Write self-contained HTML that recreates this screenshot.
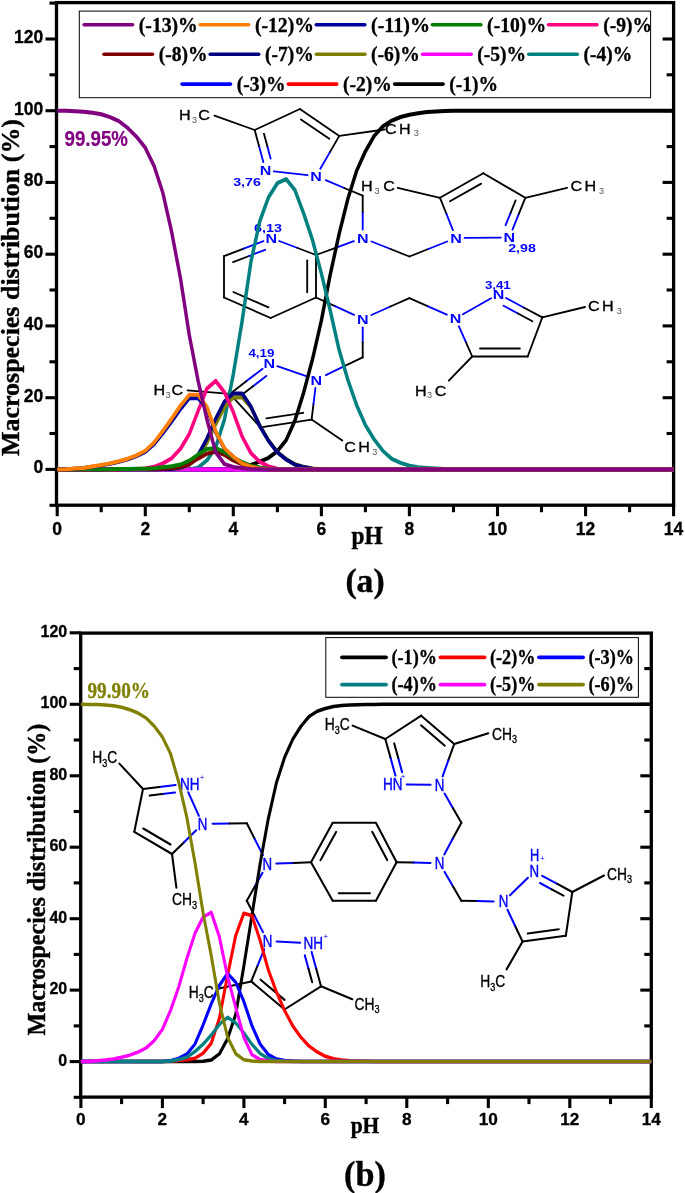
<!DOCTYPE html>
<html><head><meta charset="utf-8"><title>Macrospecies distribution</title>
<style>html,body{margin:0;padding:0;background:#fff}svg{display:block}</style></head>
<body>
<svg width="685" height="1193" viewBox="0 0 685 1193">
<rect width="685" height="1193" fill="#fff"/>
<g id="chartA">
<rect x="56.5" y="2.6" width="617.1" height="502.6" fill="none" stroke="#000" stroke-width="3.3"/>
<line x1="49.5" y1="505.3" x2="56.5" y2="505.3" stroke="#000" stroke-width="3.1"/>
<line x1="45.5" y1="469.4" x2="56.5" y2="469.4" stroke="#000" stroke-width="3.1"/>
<line x1="662.6" y1="469.4" x2="673.6" y2="469.4" stroke="#000" stroke-width="3.1"/>
<text x="43.2" y="473.2" font-family='"Liberation Sans", Arial, sans-serif' font-size="17.5" font-weight="bold" fill="#000" text-anchor="end"  stroke="#000" stroke-width="0.3" stroke-linejoin="round">0</text>
<line x1="49.5" y1="433.5" x2="56.5" y2="433.5" stroke="#000" stroke-width="3.1"/>
<line x1="666.6" y1="433.5" x2="673.6" y2="433.5" stroke="#000" stroke-width="3.1"/>
<line x1="45.5" y1="397.7" x2="56.5" y2="397.7" stroke="#000" stroke-width="3.1"/>
<line x1="662.6" y1="397.7" x2="673.6" y2="397.7" stroke="#000" stroke-width="3.1"/>
<text x="43.2" y="401.5" font-family='"Liberation Sans", Arial, sans-serif' font-size="17.5" font-weight="bold" fill="#000" text-anchor="end"  stroke="#000" stroke-width="0.3" stroke-linejoin="round">20</text>
<line x1="49.5" y1="361.8" x2="56.5" y2="361.8" stroke="#000" stroke-width="3.1"/>
<line x1="666.6" y1="361.8" x2="673.6" y2="361.8" stroke="#000" stroke-width="3.1"/>
<line x1="45.5" y1="325.9" x2="56.5" y2="325.9" stroke="#000" stroke-width="3.1"/>
<line x1="662.6" y1="325.9" x2="673.6" y2="325.9" stroke="#000" stroke-width="3.1"/>
<text x="43.2" y="329.7" font-family='"Liberation Sans", Arial, sans-serif' font-size="17.5" font-weight="bold" fill="#000" text-anchor="end"  stroke="#000" stroke-width="0.3" stroke-linejoin="round">40</text>
<line x1="49.5" y1="290.0" x2="56.5" y2="290.0" stroke="#000" stroke-width="3.1"/>
<line x1="666.6" y1="290.0" x2="673.6" y2="290.0" stroke="#000" stroke-width="3.1"/>
<line x1="45.5" y1="254.2" x2="56.5" y2="254.2" stroke="#000" stroke-width="3.1"/>
<line x1="662.6" y1="254.2" x2="673.6" y2="254.2" stroke="#000" stroke-width="3.1"/>
<text x="43.2" y="258.0" font-family='"Liberation Sans", Arial, sans-serif' font-size="17.5" font-weight="bold" fill="#000" text-anchor="end"  stroke="#000" stroke-width="0.3" stroke-linejoin="round">60</text>
<line x1="49.5" y1="218.3" x2="56.5" y2="218.3" stroke="#000" stroke-width="3.1"/>
<line x1="666.6" y1="218.3" x2="673.6" y2="218.3" stroke="#000" stroke-width="3.1"/>
<line x1="45.5" y1="182.4" x2="56.5" y2="182.4" stroke="#000" stroke-width="3.1"/>
<line x1="662.6" y1="182.4" x2="673.6" y2="182.4" stroke="#000" stroke-width="3.1"/>
<text x="43.2" y="186.2" font-family='"Liberation Sans", Arial, sans-serif' font-size="17.5" font-weight="bold" fill="#000" text-anchor="end"  stroke="#000" stroke-width="0.3" stroke-linejoin="round">80</text>
<line x1="49.5" y1="146.6" x2="56.5" y2="146.6" stroke="#000" stroke-width="3.1"/>
<line x1="666.6" y1="146.6" x2="673.6" y2="146.6" stroke="#000" stroke-width="3.1"/>
<line x1="45.5" y1="110.7" x2="56.5" y2="110.7" stroke="#000" stroke-width="3.1"/>
<line x1="662.6" y1="110.7" x2="673.6" y2="110.7" stroke="#000" stroke-width="3.1"/>
<text x="43.2" y="114.5" font-family='"Liberation Sans", Arial, sans-serif' font-size="17.5" font-weight="bold" fill="#000" text-anchor="end"  stroke="#000" stroke-width="0.3" stroke-linejoin="round">100</text>
<line x1="49.5" y1="74.8" x2="56.5" y2="74.8" stroke="#000" stroke-width="3.1"/>
<line x1="666.6" y1="74.8" x2="673.6" y2="74.8" stroke="#000" stroke-width="3.1"/>
<line x1="45.5" y1="39.0" x2="56.5" y2="39.0" stroke="#000" stroke-width="3.1"/>
<line x1="662.6" y1="39.0" x2="673.6" y2="39.0" stroke="#000" stroke-width="3.1"/>
<text x="43.2" y="42.8" font-family='"Liberation Sans", Arial, sans-serif' font-size="17.5" font-weight="bold" fill="#000" text-anchor="end"  stroke="#000" stroke-width="0.3" stroke-linejoin="round">120</text>
<line x1="49.5" y1="3.1" x2="56.5" y2="3.1" stroke="#000" stroke-width="3.1"/>
<line x1="57.2" y1="505.2" x2="57.2" y2="516.2" stroke="#000" stroke-width="3.1"/>
<text x="57.2" y="534.8" font-family='"Liberation Sans", Arial, sans-serif' font-size="17.5" font-weight="bold" fill="#000" text-anchor="middle"  stroke="#000" stroke-width="0.3" stroke-linejoin="round">0</text>
<line x1="101.2" y1="505.2" x2="101.2" y2="512.2" stroke="#000" stroke-width="3.1"/>
<line x1="145.3" y1="505.2" x2="145.3" y2="516.2" stroke="#000" stroke-width="3.1"/>
<text x="145.3" y="534.8" font-family='"Liberation Sans", Arial, sans-serif' font-size="17.5" font-weight="bold" fill="#000" text-anchor="middle"  stroke="#000" stroke-width="0.3" stroke-linejoin="round">2</text>
<line x1="189.3" y1="505.2" x2="189.3" y2="512.2" stroke="#000" stroke-width="3.1"/>
<line x1="233.3" y1="505.2" x2="233.3" y2="516.2" stroke="#000" stroke-width="3.1"/>
<text x="233.3" y="534.8" font-family='"Liberation Sans", Arial, sans-serif' font-size="17.5" font-weight="bold" fill="#000" text-anchor="middle"  stroke="#000" stroke-width="0.3" stroke-linejoin="round">4</text>
<line x1="277.4" y1="505.2" x2="277.4" y2="512.2" stroke="#000" stroke-width="3.1"/>
<line x1="321.4" y1="505.2" x2="321.4" y2="516.2" stroke="#000" stroke-width="3.1"/>
<text x="321.4" y="534.8" font-family='"Liberation Sans", Arial, sans-serif' font-size="17.5" font-weight="bold" fill="#000" text-anchor="middle"  stroke="#000" stroke-width="0.3" stroke-linejoin="round">6</text>
<line x1="365.4" y1="505.2" x2="365.4" y2="512.2" stroke="#000" stroke-width="3.1"/>
<line x1="409.4" y1="505.2" x2="409.4" y2="516.2" stroke="#000" stroke-width="3.1"/>
<text x="409.4" y="534.8" font-family='"Liberation Sans", Arial, sans-serif' font-size="17.5" font-weight="bold" fill="#000" text-anchor="middle"  stroke="#000" stroke-width="0.3" stroke-linejoin="round">8</text>
<line x1="453.5" y1="505.2" x2="453.5" y2="512.2" stroke="#000" stroke-width="3.1"/>
<line x1="497.5" y1="505.2" x2="497.5" y2="516.2" stroke="#000" stroke-width="3.1"/>
<text x="497.5" y="534.8" font-family='"Liberation Sans", Arial, sans-serif' font-size="17.5" font-weight="bold" fill="#000" text-anchor="middle"  stroke="#000" stroke-width="0.3" stroke-linejoin="round">10</text>
<line x1="541.5" y1="505.2" x2="541.5" y2="512.2" stroke="#000" stroke-width="3.1"/>
<line x1="585.6" y1="505.2" x2="585.6" y2="516.2" stroke="#000" stroke-width="3.1"/>
<text x="585.6" y="534.8" font-family='"Liberation Sans", Arial, sans-serif' font-size="17.5" font-weight="bold" fill="#000" text-anchor="middle"  stroke="#000" stroke-width="0.3" stroke-linejoin="round">12</text>
<line x1="629.6" y1="505.2" x2="629.6" y2="512.2" stroke="#000" stroke-width="3.1"/>
<line x1="673.6" y1="505.2" x2="673.6" y2="516.2" stroke="#000" stroke-width="3.1"/>
<text x="673.6" y="534.8" font-family='"Liberation Sans", Arial, sans-serif' font-size="17.5" font-weight="bold" fill="#000" text-anchor="middle"  stroke="#000" stroke-width="0.3" stroke-linejoin="round">14</text>
<g id="molA">
<line x1="254.7" y1="130.0" x2="299.9" y2="109.0" stroke="#000000" stroke-width="1.85" stroke-linecap="round"/>
<line x1="299.9" y1="109.0" x2="339.3" y2="135.9" stroke="#000000" stroke-width="1.85" stroke-linecap="round"/>
<line x1="300.9" y1="119.4" x2="329.3" y2="138.7" stroke="#000000" stroke-width="1.85" stroke-linecap="round"/>
<line x1="339.3" y1="135.9" x2="329.8" y2="152.4" stroke="#000000" stroke-width="1.85" stroke-linecap="round"/>
<line x1="329.8" y1="152.4" x2="320.3" y2="168.8" stroke="#0000ff" stroke-width="1.85" stroke-linecap="round"/>
<line x1="307.6" y1="175.2" x2="273.9" y2="171.3" stroke="#0000ff" stroke-width="1.85" stroke-linecap="round"/>
<line x1="263.3" y1="162.1" x2="259.0" y2="146.0" stroke="#0000ff" stroke-width="1.85" stroke-linecap="round"/>
<line x1="259.0" y1="146.0" x2="254.7" y2="130.0" stroke="#000000" stroke-width="1.85" stroke-linecap="round"/>
<line x1="270.6" y1="158.6" x2="267.3" y2="146.1" stroke="#0000ff" stroke-width="1.85" stroke-linecap="round"/>
<line x1="267.3" y1="146.1" x2="263.9" y2="133.6" stroke="#000000" stroke-width="1.85" stroke-linecap="round"/>
<line x1="214.5" y1="115.6" x2="254.7" y2="130.0" stroke="#000000" stroke-width="1.85" stroke-linecap="round"/>
<line x1="339.3" y1="135.9" x2="384.6" y2="129.5" stroke="#000000" stroke-width="1.85" stroke-linecap="round"/>
<line x1="325.7" y1="180.2" x2="344.2" y2="188.0" stroke="#0000ff" stroke-width="1.85" stroke-linecap="round"/>
<line x1="344.2" y1="188.0" x2="362.7" y2="195.7" stroke="#000000" stroke-width="1.85" stroke-linecap="round"/>
<line x1="362.7" y1="195.7" x2="362.7" y2="212.6" stroke="#000000" stroke-width="1.85" stroke-linecap="round"/>
<line x1="362.7" y1="212.6" x2="362.7" y2="229.5" stroke="#0000ff" stroke-width="1.85" stroke-linecap="round"/>
<line x1="279.2" y1="241.0" x2="297.6" y2="248.0" stroke="#0000ff" stroke-width="1.85" stroke-linecap="round"/>
<line x1="297.6" y1="248.0" x2="316.0" y2="255.0" stroke="#000000" stroke-width="1.85" stroke-linecap="round"/>
<line x1="316.0" y1="255.0" x2="316.0" y2="297.5" stroke="#000000" stroke-width="1.85" stroke-linecap="round"/>
<line x1="307.2" y1="260.3" x2="307.2" y2="292.2" stroke="#000000" stroke-width="1.85" stroke-linecap="round"/>
<line x1="316.0" y1="297.5" x2="270.7" y2="318.0" stroke="#000000" stroke-width="1.85" stroke-linecap="round"/>
<line x1="270.7" y1="318.0" x2="224.0" y2="297.5" stroke="#000000" stroke-width="1.85" stroke-linecap="round"/>
<line x1="268.4" y1="307.4" x2="233.4" y2="292.0" stroke="#000000" stroke-width="1.85" stroke-linecap="round"/>
<line x1="224.0" y1="297.5" x2="224.0" y2="256.2" stroke="#000000" stroke-width="1.85" stroke-linecap="round"/>
<line x1="224.0" y1="256.2" x2="243.7" y2="248.6" stroke="#000000" stroke-width="1.85" stroke-linecap="round"/>
<line x1="243.7" y1="248.6" x2="263.4" y2="241.1" stroke="#0000ff" stroke-width="1.85" stroke-linecap="round"/>
<line x1="233.1" y1="262.1" x2="249.1" y2="256.0" stroke="#000000" stroke-width="1.85" stroke-linecap="round"/>
<line x1="249.1" y1="256.0" x2="265.1" y2="249.8" stroke="#0000ff" stroke-width="1.85" stroke-linecap="round"/>
<line x1="316.0" y1="255.0" x2="334.9" y2="248.1" stroke="#000000" stroke-width="1.85" stroke-linecap="round"/>
<line x1="334.9" y1="248.1" x2="353.8" y2="241.2" stroke="#0000ff" stroke-width="1.85" stroke-linecap="round"/>
<line x1="316.0" y1="297.5" x2="335.0" y2="306.2" stroke="#000000" stroke-width="1.85" stroke-linecap="round"/>
<line x1="335.0" y1="306.2" x2="354.1" y2="314.9" stroke="#0000ff" stroke-width="1.85" stroke-linecap="round"/>
<line x1="464.6" y1="237.9" x2="500.8" y2="237.6" stroke="#0000ff" stroke-width="1.85" stroke-linecap="round"/>
<line x1="512.5" y1="229.6" x2="518.9" y2="213.7" stroke="#0000ff" stroke-width="1.85" stroke-linecap="round"/>
<line x1="518.9" y1="213.7" x2="525.3" y2="197.8" stroke="#000000" stroke-width="1.85" stroke-linecap="round"/>
<line x1="505.6" y1="225.2" x2="510.6" y2="212.8" stroke="#0000ff" stroke-width="1.85" stroke-linecap="round"/>
<line x1="510.6" y1="212.8" x2="515.6" y2="200.4" stroke="#000000" stroke-width="1.85" stroke-linecap="round"/>
<line x1="525.3" y1="197.8" x2="483.3" y2="173.2" stroke="#000000" stroke-width="1.85" stroke-linecap="round"/>
<line x1="483.3" y1="173.2" x2="440.0" y2="197.8" stroke="#000000" stroke-width="1.85" stroke-linecap="round"/>
<line x1="481.2" y1="183.6" x2="450.0" y2="201.3" stroke="#000000" stroke-width="1.85" stroke-linecap="round"/>
<line x1="440.0" y1="197.8" x2="446.5" y2="214.0" stroke="#000000" stroke-width="1.85" stroke-linecap="round"/>
<line x1="446.5" y1="214.0" x2="452.9" y2="230.1" stroke="#0000ff" stroke-width="1.85" stroke-linecap="round"/>
<line x1="371.5" y1="241.5" x2="390.5" y2="249.0" stroke="#0000ff" stroke-width="1.85" stroke-linecap="round"/>
<line x1="390.5" y1="249.0" x2="409.4" y2="256.5" stroke="#000000" stroke-width="1.85" stroke-linecap="round"/>
<line x1="409.4" y1="256.5" x2="428.3" y2="249.0" stroke="#000000" stroke-width="1.85" stroke-linecap="round"/>
<line x1="428.3" y1="249.0" x2="447.3" y2="241.5" stroke="#0000ff" stroke-width="1.85" stroke-linecap="round"/>
<line x1="440.0" y1="197.8" x2="397.7" y2="187.8" stroke="#000000" stroke-width="1.85" stroke-linecap="round"/>
<line x1="525.3" y1="197.8" x2="567.0" y2="187.8" stroke="#000000" stroke-width="1.85" stroke-linecap="round"/>
<line x1="462.9" y1="314.3" x2="491.1" y2="298.2" stroke="#0000ff" stroke-width="1.85" stroke-linecap="round"/>
<line x1="506.0" y1="298.0" x2="524.1" y2="307.7" stroke="#0000ff" stroke-width="1.85" stroke-linecap="round"/>
<line x1="524.1" y1="307.7" x2="542.3" y2="317.4" stroke="#000000" stroke-width="1.85" stroke-linecap="round"/>
<line x1="503.6" y1="305.8" x2="518.0" y2="313.5" stroke="#0000ff" stroke-width="1.85" stroke-linecap="round"/>
<line x1="518.0" y1="313.5" x2="532.4" y2="321.2" stroke="#000000" stroke-width="1.85" stroke-linecap="round"/>
<line x1="542.3" y1="317.4" x2="527.7" y2="356.5" stroke="#000000" stroke-width="1.85" stroke-linecap="round"/>
<line x1="527.7" y1="356.5" x2="472.2" y2="356.5" stroke="#000000" stroke-width="1.85" stroke-linecap="round"/>
<line x1="519.9" y1="348.5" x2="480.0" y2="348.5" stroke="#000000" stroke-width="1.85" stroke-linecap="round"/>
<line x1="472.2" y1="356.5" x2="465.6" y2="341.4" stroke="#000000" stroke-width="1.85" stroke-linecap="round"/>
<line x1="465.6" y1="341.4" x2="458.9" y2="326.3" stroke="#0000ff" stroke-width="1.85" stroke-linecap="round"/>
<line x1="371.4" y1="315.0" x2="390.4" y2="306.5" stroke="#0000ff" stroke-width="1.85" stroke-linecap="round"/>
<line x1="390.4" y1="306.5" x2="409.4" y2="298.1" stroke="#000000" stroke-width="1.85" stroke-linecap="round"/>
<line x1="409.4" y1="298.1" x2="428.1" y2="306.4" stroke="#000000" stroke-width="1.85" stroke-linecap="round"/>
<line x1="428.1" y1="306.4" x2="446.8" y2="314.7" stroke="#0000ff" stroke-width="1.85" stroke-linecap="round"/>
<line x1="542.3" y1="317.4" x2="585.0" y2="307.0" stroke="#000000" stroke-width="1.85" stroke-linecap="round"/>
<line x1="472.2" y1="356.5" x2="448.8" y2="380.7" stroke="#000000" stroke-width="1.85" stroke-linecap="round"/>
<line x1="308.4" y1="376.9" x2="277.3" y2="366.2" stroke="#0000ff" stroke-width="1.85" stroke-linecap="round"/>
<line x1="262.6" y1="368.7" x2="246.2" y2="381.3" stroke="#0000ff" stroke-width="1.85" stroke-linecap="round"/>
<line x1="246.2" y1="381.3" x2="229.9" y2="393.9" stroke="#000000" stroke-width="1.85" stroke-linecap="round"/>
<line x1="266.3" y1="375.9" x2="253.3" y2="386.0" stroke="#0000ff" stroke-width="1.85" stroke-linecap="round"/>
<line x1="253.3" y1="386.0" x2="240.3" y2="396.0" stroke="#000000" stroke-width="1.85" stroke-linecap="round"/>
<line x1="229.9" y1="393.9" x2="260.5" y2="427.4" stroke="#000000" stroke-width="1.85" stroke-linecap="round"/>
<line x1="260.5" y1="427.4" x2="311.6" y2="419.6" stroke="#000000" stroke-width="1.85" stroke-linecap="round"/>
<line x1="266.4" y1="418.4" x2="303.2" y2="412.8" stroke="#000000" stroke-width="1.85" stroke-linecap="round"/>
<line x1="311.6" y1="419.6" x2="313.5" y2="403.8" stroke="#000000" stroke-width="1.85" stroke-linecap="round"/>
<line x1="313.5" y1="403.8" x2="315.4" y2="388.0" stroke="#0000ff" stroke-width="1.85" stroke-linecap="round"/>
<line x1="362.7" y1="327.3" x2="362.7" y2="342.4" stroke="#0000ff" stroke-width="1.85" stroke-linecap="round"/>
<line x1="362.7" y1="342.4" x2="362.7" y2="357.4" stroke="#000000" stroke-width="1.85" stroke-linecap="round"/>
<line x1="362.7" y1="357.4" x2="344.3" y2="366.2" stroke="#000000" stroke-width="1.85" stroke-linecap="round"/>
<line x1="344.3" y1="366.2" x2="325.9" y2="375.1" stroke="#0000ff" stroke-width="1.85" stroke-linecap="round"/>
<line x1="229.9" y1="393.9" x2="187.5" y2="390.4" stroke="#000000" stroke-width="1.85" stroke-linecap="round"/>
<line x1="311.6" y1="419.6" x2="342.3" y2="440.6" stroke="#000000" stroke-width="1.85" stroke-linecap="round"/>
<text transform="translate(316.0,181.1) scale(1.17,1)" text-anchor="middle" font-family='"Liberation Sans", Arial, sans-serif' font-size="13.7" font-weight="bold" fill="#0000ff">N</text>
<text transform="translate(265.5,175.2) scale(1.17,1)" text-anchor="middle" font-family='"Liberation Sans", Arial, sans-serif' font-size="13.7" font-weight="bold" fill="#0000ff">N</text>
<text transform="translate(362.7,242.9) scale(1.17,1)" text-anchor="middle" font-family='"Liberation Sans", Arial, sans-serif' font-size="13.7" font-weight="bold" fill="#0000ff">N</text>
<text transform="translate(271.3,242.9) scale(1.17,1)" text-anchor="middle" font-family='"Liberation Sans", Arial, sans-serif' font-size="13.7" font-weight="bold" fill="#0000ff">N</text>
<text transform="translate(362.7,323.7) scale(1.17,1)" text-anchor="middle" font-family='"Liberation Sans", Arial, sans-serif' font-size="13.7" font-weight="bold" fill="#0000ff">N</text>
<text transform="translate(456.1,242.9) scale(1.17,1)" text-anchor="middle" font-family='"Liberation Sans", Arial, sans-serif' font-size="13.7" font-weight="bold" fill="#0000ff">N</text>
<text transform="translate(509.3,242.4) scale(1.17,1)" text-anchor="middle" font-family='"Liberation Sans", Arial, sans-serif' font-size="13.7" font-weight="bold" fill="#0000ff">N</text>
<text transform="translate(455.5,323.4) scale(1.17,1)" text-anchor="middle" font-family='"Liberation Sans", Arial, sans-serif' font-size="13.7" font-weight="bold" fill="#0000ff">N</text>
<text transform="translate(498.5,298.9) scale(1.17,1)" text-anchor="middle" font-family='"Liberation Sans", Arial, sans-serif' font-size="13.7" font-weight="bold" fill="#0000ff">N</text>
<text transform="translate(316.4,384.5) scale(1.17,1)" text-anchor="middle" font-family='"Liberation Sans", Arial, sans-serif' font-size="13.7" font-weight="bold" fill="#0000ff">N</text>
<text transform="translate(269.3,368.4) scale(1.17,1)" text-anchor="middle" font-family='"Liberation Sans", Arial, sans-serif' font-size="13.7" font-weight="bold" fill="#0000ff">N</text>
<text transform="translate(179.1,119.6) scale(1.13,1)" font-family='"Liberation Sans", Arial, sans-serif' font-size="14.3" fill="#000" stroke="#000" stroke-width="0.3">H</text><text transform="translate(192.1,122.5) scale(1.1,1)" font-family='"Liberation Sans", Arial, sans-serif' font-size="8.3" fill="#555">3</text><text transform="translate(198.3,119.6) scale(1.13,1)" font-family='"Liberation Sans", Arial, sans-serif' font-size="14.3" fill="#000" stroke="#000" stroke-width="0.3">C</text>
<text transform="translate(385.1,133.5) scale(1.13,1)" font-family='"Liberation Sans", Arial, sans-serif' font-size="14.3" fill="#000" stroke="#000" stroke-width="0.3">C</text><text transform="translate(399.1,133.5) scale(1.13,1)" font-family='"Liberation Sans", Arial, sans-serif' font-size="14.3" fill="#000" stroke="#000" stroke-width="0.3">H</text><text transform="translate(413.7,136.4) scale(1.1,1)" font-family='"Liberation Sans", Arial, sans-serif' font-size="8.3" fill="#555">3</text>
<text transform="translate(361.1,190.6) scale(1.13,1)" font-family='"Liberation Sans", Arial, sans-serif' font-size="14.3" fill="#000" stroke="#000" stroke-width="0.3">H</text><text transform="translate(374.6,193.5) scale(1.1,1)" font-family='"Liberation Sans", Arial, sans-serif' font-size="8.3" fill="#555">3</text><text transform="translate(383.3,190.6) scale(1.13,1)" font-family='"Liberation Sans", Arial, sans-serif' font-size="14.3" fill="#000" stroke="#000" stroke-width="0.3">C</text>
<text transform="translate(570.4,191.2) scale(1.13,1)" font-family='"Liberation Sans", Arial, sans-serif' font-size="14.3" fill="#000" stroke="#000" stroke-width="0.3">C</text><text transform="translate(584.4,191.2) scale(1.13,1)" font-family='"Liberation Sans", Arial, sans-serif' font-size="14.3" fill="#000" stroke="#000" stroke-width="0.3">H</text><text transform="translate(599.0,194.1) scale(1.1,1)" font-family='"Liberation Sans", Arial, sans-serif' font-size="8.3" fill="#555">3</text>
<text transform="translate(588.1,311.4) scale(1.13,1)" font-family='"Liberation Sans", Arial, sans-serif' font-size="14.3" fill="#000" stroke="#000" stroke-width="0.3">C</text><text transform="translate(602.1,311.4) scale(1.13,1)" font-family='"Liberation Sans", Arial, sans-serif' font-size="14.3" fill="#000" stroke="#000" stroke-width="0.3">H</text><text transform="translate(616.7,314.3) scale(1.1,1)" font-family='"Liberation Sans", Arial, sans-serif' font-size="8.3" fill="#555">3</text>
<text transform="translate(414.9,395.5) scale(1.13,1)" font-family='"Liberation Sans", Arial, sans-serif' font-size="14.3" fill="#000" stroke="#000" stroke-width="0.3">H</text><text transform="translate(427.1,398.4) scale(1.1,1)" font-family='"Liberation Sans", Arial, sans-serif' font-size="8.3" fill="#555">3</text><text transform="translate(434.7,395.5) scale(1.13,1)" font-family='"Liberation Sans", Arial, sans-serif' font-size="14.3" fill="#000" stroke="#000" stroke-width="0.3">C</text>
<text transform="translate(153.5,395.2) scale(1.13,1)" font-family='"Liberation Sans", Arial, sans-serif' font-size="14.3" fill="#000" stroke="#000" stroke-width="0.3">H</text><text transform="translate(165.5,398.1) scale(1.1,1)" font-family='"Liberation Sans", Arial, sans-serif' font-size="8.3" fill="#555">3</text><text transform="translate(171.4,395.2) scale(1.13,1)" font-family='"Liberation Sans", Arial, sans-serif' font-size="14.3" fill="#000" stroke="#000" stroke-width="0.3">C</text>
<text transform="translate(344.3,451.8) scale(1.13,1)" font-family='"Liberation Sans", Arial, sans-serif' font-size="14.3" fill="#000" stroke="#000" stroke-width="0.3">C</text><text transform="translate(358.3,451.8) scale(1.13,1)" font-family='"Liberation Sans", Arial, sans-serif' font-size="14.3" fill="#000" stroke="#000" stroke-width="0.3">H</text><text transform="translate(372.2,454.7) scale(1.1,1)" font-family='"Liberation Sans", Arial, sans-serif' font-size="8.3" fill="#555">3</text>
<text x="233.2" y="186.3" font-family='"Liberation Sans", Arial, sans-serif' font-size="10.6" font-weight="bold" fill="#0000ff" text-anchor="start" textLength="27.6" lengthAdjust="spacingAndGlyphs" >3,76</text>
<text x="254.1" y="231.8" font-family='"Liberation Sans", Arial, sans-serif' font-size="10.6" font-weight="bold" fill="#0000ff" text-anchor="start" textLength="28.0" lengthAdjust="spacingAndGlyphs" >6,13</text>
<text x="508.2" y="251.8" font-family='"Liberation Sans", Arial, sans-serif' font-size="10.6" font-weight="bold" fill="#0000ff" text-anchor="start" textLength="27.6" lengthAdjust="spacingAndGlyphs" >2,98</text>
<text x="484.9" y="288.9" font-family='"Liberation Sans", Arial, sans-serif' font-size="10.6" font-weight="bold" fill="#0000ff" text-anchor="start" textLength="25.8" lengthAdjust="spacingAndGlyphs" >3,41</text>
<text x="248.4" y="357.4" font-family='"Liberation Sans", Arial, sans-serif' font-size="10.6" font-weight="bold" fill="#0000ff" text-anchor="start" textLength="26.0" lengthAdjust="spacingAndGlyphs" >4,19</text>
</g>
<g id="curvesA" transform="scale(0.86,1)">
<polyline points="66.51,469.4 76.75,469.4 86.99,469.4 97.23,469.4 107.47,469.4 117.71,469.4 127.95,469.4 138.19,469.4 148.43,469.4 158.67,469.4 168.91,469.4 179.15,469.4 189.39,469.4 199.63,469.4 209.87,469.4 220.10,469.4 230.34,469.4 240.58,469.4 250.82,469.4 261.06,469.4 271.30,469.4 281.54,467.9 291.78,464.8 302.02,461.7 312.26,457.8 322.50,451.2 332.74,440.1 342.98,420.5 353.22,392.2 363.46,358.9 373.70,320.5 383.94,274.8 394.18,234.5 404.42,199.1 414.66,170.9 424.90,151.3 435.13,135.9 445.37,126.3 455.61,120.6 465.85,117.0 476.09,114.8 486.33,113.2 496.57,112.0 506.81,111.4 517.05,111.1 527.29,110.8 537.53,110.7 547.77,110.7 558.01,110.7 568.25,110.7 578.49,110.7 588.73,110.7 598.97,110.7 609.21,110.7 619.45,110.7 629.69,110.7 639.93,110.7 650.17,110.7 660.40,110.7 670.64,110.7 680.88,110.7 691.12,110.7 701.36,110.7 711.60,110.7 721.84,110.7 732.08,110.7 742.32,110.7 752.56,110.7 762.80,110.7 773.04,110.7 783.28,110.7" fill="none" stroke="#000000" stroke-width="4.0" stroke-linejoin="round" stroke-linecap="butt"/>
<polyline points="66.51,469.4 76.75,469.4 86.99,469.4 97.23,469.4 107.47,469.4 117.71,469.4 127.95,469.4 138.19,469.4 148.43,469.4 158.67,469.4 168.91,469.4 179.15,469.4 189.39,469.4 199.63,469.4 209.87,469.4 220.10,469.4 230.34,469.4 240.58,469.4 250.82,469.4 261.06,469.4 271.30,469.4 281.54,469.4 291.78,469.4 302.02,469.4 312.26,469.4 322.50,469.4 332.74,469.4 342.98,469.4 353.22,469.4 363.46,469.4 373.70,469.4 383.94,469.4 394.18,469.4 404.42,469.4 414.66,469.4 424.90,469.4 435.13,469.4 445.37,469.4 455.61,469.4 465.85,469.4 476.09,469.4 486.33,469.4 496.57,469.4 506.81,469.4 517.05,469.4 527.29,469.4 537.53,469.4 547.77,469.4 558.01,469.4 568.25,469.4 578.49,469.4 588.73,469.4 598.97,469.4 609.21,469.4 619.45,469.4 629.69,469.4 639.93,469.4 650.17,469.4 660.40,469.4 670.64,469.4 680.88,469.4 691.12,469.4 701.36,469.4 711.60,469.4 721.84,469.4 732.08,469.4 742.32,469.4 752.56,469.4 762.80,469.4 773.04,469.4 783.28,469.4" fill="none" stroke="#ff0000" stroke-width="4.0" stroke-linejoin="round" stroke-linecap="butt"/>
<polyline points="66.51,469.4 76.75,469.4 86.99,469.4 97.23,469.4 107.47,469.4 117.71,469.4 127.95,469.4 138.19,469.4 148.43,469.4 158.67,469.4 168.91,469.4 179.15,469.4 189.39,469.4 199.63,469.4 209.87,469.4 220.10,469.4 230.34,469.4 240.58,469.4 250.82,469.4 261.06,469.4 271.30,469.4 281.54,469.4 291.78,469.4 302.02,469.4 312.26,469.4 322.50,469.4 332.74,469.4 342.98,469.4 353.22,469.4 363.46,469.4 373.70,469.4 383.94,469.4 394.18,469.4 404.42,469.4 414.66,469.4 424.90,469.4 435.13,469.4 445.37,469.4 455.61,469.4 465.85,469.4 476.09,469.4 486.33,469.4 496.57,469.4 506.81,469.4 517.05,469.4 527.29,469.4 537.53,469.4 547.77,469.4 558.01,469.4 568.25,469.4 578.49,469.4 588.73,469.4 598.97,469.4 609.21,469.4 619.45,469.4 629.69,469.4 639.93,469.4 650.17,469.4 660.40,469.4 670.64,469.4 680.88,469.4 691.12,469.4 701.36,469.4 711.60,469.4 721.84,469.4 732.08,469.4 742.32,469.4 752.56,469.4 762.80,469.4 773.04,469.4 783.28,469.4" fill="none" stroke="#0000ff" stroke-width="4.0" stroke-linejoin="round" stroke-linecap="butt"/>
<polyline points="66.51,469.4 76.75,469.4 86.99,469.4 97.23,469.4 107.47,469.4 117.71,469.4 127.95,469.4 138.19,469.4 148.43,469.4 158.67,469.4 168.91,469.4 179.15,469.4 189.39,469.4 199.63,469.4 209.87,469.4 220.10,469.4 230.34,467.6 240.58,460.4 250.82,447.2 261.06,419.2 271.30,374.1 281.54,321.0 291.78,261.8 302.02,221.4 312.26,197.3 322.50,183.2 332.74,179.1 342.98,190.2 353.22,213.7 363.46,240.3 373.70,273.5 383.94,310.4 394.18,349.5 404.42,379.7 414.66,405.1 424.90,425.2 435.13,439.5 445.37,451.0 455.61,458.8 465.85,462.8 476.09,465.7 486.33,467.2 496.57,468.0 506.81,468.6 517.05,469.0 527.29,469.2 537.53,469.3 547.77,469.4 558.01,469.4 568.25,469.4 578.49,469.4 588.73,469.4 598.97,469.4 609.21,469.4 619.45,469.4 629.69,469.4 639.93,469.4 650.17,469.4 660.40,469.4 670.64,469.4 680.88,469.4 691.12,469.4 701.36,469.4 711.60,469.4 721.84,469.4 732.08,469.4 742.32,469.4 752.56,469.4 762.80,469.4 773.04,469.4 783.28,469.4" fill="none" stroke="#008080" stroke-width="4.0" stroke-linejoin="round" stroke-linecap="butt"/>
<polyline points="66.51,469.4 76.75,469.4 86.99,469.4 97.23,469.4 107.47,469.4 117.71,469.4 127.95,469.4 138.19,469.4 148.43,469.4 158.67,469.4 168.91,469.4 179.15,469.4 189.39,469.4 199.63,469.4 209.87,469.4 220.10,469.4 230.34,469.4 240.58,469.4 250.82,469.4 261.06,469.4 271.30,469.4 281.54,469.4 291.78,469.4 302.02,469.4 312.26,469.4 322.50,469.4 332.74,469.4 342.98,469.4 353.22,469.4 363.46,469.4 373.70,469.4 383.94,469.4 394.18,469.4 404.42,469.4 414.66,469.4 424.90,469.4 435.13,469.4 445.37,469.4 455.61,469.4 465.85,469.4 476.09,469.4 486.33,469.4 496.57,469.4 506.81,469.4 517.05,469.4 527.29,469.4 537.53,469.4 547.77,469.4 558.01,469.4 568.25,469.4 578.49,469.4 588.73,469.4 598.97,469.4 609.21,469.4 619.45,469.4 629.69,469.4 639.93,469.4 650.17,469.4 660.40,469.4 670.64,469.4 680.88,469.4 691.12,469.4 701.36,469.4 711.60,469.4 721.84,469.4 732.08,469.4 742.32,469.4 752.56,469.4 762.80,469.4 773.04,469.4 783.28,469.4" fill="none" stroke="#ff00ff" stroke-width="4.0" stroke-linejoin="round" stroke-linecap="butt"/>
<polyline points="66.51,469.4 76.75,469.4 86.99,469.4 97.23,469.4 107.47,469.4 117.71,469.4 127.95,469.4 138.19,469.3 148.43,469.3 158.67,469.3 168.91,469.2 179.15,469.2 189.39,469.1 199.63,469.1 209.87,468.0 220.10,464.9 230.34,457.4 240.58,442.8 250.82,424.1 261.06,407.2 271.30,397.4 281.54,397.2 291.78,407.4 302.02,425.5 312.26,440.3 322.50,451.8 332.74,459.1 342.98,464.3 353.22,467.0 363.46,468.6 373.70,469.2 383.94,469.4 394.18,469.4 404.42,469.4 414.66,469.4 424.90,469.4 435.13,469.4 445.37,469.4 455.61,469.4 465.85,469.4 476.09,469.4 486.33,469.4 496.57,469.4 506.81,469.4 517.05,469.4 527.29,469.4 537.53,469.4 547.77,469.4 558.01,469.4 568.25,469.4 578.49,469.4 588.73,469.4 598.97,469.4 609.21,469.4 619.45,469.4 629.69,469.4 639.93,469.4 650.17,469.4 660.40,469.4 670.64,469.4 680.88,469.4 691.12,469.4 701.36,469.4 711.60,469.4 721.84,469.4 732.08,469.4 742.32,469.4 752.56,469.4 762.80,469.4 773.04,469.4 783.28,469.4" fill="none" stroke="#808000" stroke-width="4.0" stroke-linejoin="round" stroke-linecap="butt"/>
<polyline points="66.51,469.4 76.75,469.4 86.99,469.4 97.23,469.4 107.47,469.4 117.71,469.4 127.95,469.3 138.19,469.3 148.43,469.3 158.67,469.3 168.91,469.2 179.15,469.2 189.39,469.1 199.63,469.0 209.87,467.6 220.10,464.0 230.34,455.1 240.58,438.7 250.82,418.7 261.06,401.5 271.30,393.4 281.54,393.4 291.78,406.6 302.02,426.0 312.26,440.8 322.50,452.3 332.74,459.5 342.98,464.6 353.22,467.1 363.46,468.7 373.70,469.2 383.94,469.4 394.18,469.4 404.42,469.4 414.66,469.4 424.90,469.4 435.13,469.4 445.37,469.4 455.61,469.4 465.85,469.4 476.09,469.4 486.33,469.4 496.57,469.4 506.81,469.4 517.05,469.4 527.29,469.4 537.53,469.4 547.77,469.4 558.01,469.4 568.25,469.4 578.49,469.4 588.73,469.4 598.97,469.4 609.21,469.4 619.45,469.4 629.69,469.4 639.93,469.4 650.17,469.4 660.40,469.4 670.64,469.4 680.88,469.4 691.12,469.4 701.36,469.4 711.60,469.4 721.84,469.4 732.08,469.4 742.32,469.4 752.56,469.4 762.80,469.4 773.04,469.4 783.28,469.4" fill="none" stroke="#000080" stroke-width="4.0" stroke-linejoin="round" stroke-linecap="butt"/>
<polyline points="66.51,469.4 76.75,469.4 86.99,469.4 97.23,469.4 107.47,469.3 117.71,469.3 127.95,469.3 138.19,469.2 148.43,469.1 158.67,469.0 168.91,468.9 179.15,468.8 189.39,468.7 199.63,468.1 209.87,466.7 220.10,464.0 230.34,458.6 240.58,453.6 250.82,451.8 261.06,454.9 271.30,460.4 281.54,464.3 291.78,467.1 302.02,468.4 312.26,469.0 322.50,469.3 332.74,469.4 342.98,469.4 353.22,469.4 363.46,469.4 373.70,469.4 383.94,469.4 394.18,469.4 404.42,469.4 414.66,469.4 424.90,469.4 435.13,469.4 445.37,469.4 455.61,469.4 465.85,469.4 476.09,469.4 486.33,469.4 496.57,469.4 506.81,469.4 517.05,469.4 527.29,469.4 537.53,469.4 547.77,469.4 558.01,469.4 568.25,469.4 578.49,469.4 588.73,469.4 598.97,469.4 609.21,469.4 619.45,469.4 629.69,469.4 639.93,469.4 650.17,469.4 660.40,469.4 670.64,469.4 680.88,469.4 691.12,469.4 701.36,469.4 711.60,469.4 721.84,469.4 732.08,469.4 742.32,469.4 752.56,469.4 762.80,469.4 773.04,469.4 783.28,469.4" fill="none" stroke="#800000" stroke-width="4.0" stroke-linejoin="round" stroke-linecap="butt"/>
<polyline points="66.51,469.4 76.75,469.4 86.99,469.4 97.23,469.4 107.47,469.3 117.71,469.3 127.95,469.3 138.19,469.2 148.43,469.1 158.67,469.0 168.91,468.4 179.15,466.8 189.39,463.4 199.63,458.2 209.87,448.8 220.10,434.0 230.34,411.0 240.58,388.7 250.82,380.8 261.06,392.3 271.30,412.2 281.54,436.5 291.78,453.1 302.02,461.7 312.26,466.4 322.50,468.7 332.74,469.2 342.98,469.4 353.22,469.4 363.46,469.4 373.70,469.4 383.94,469.4 394.18,469.4 404.42,469.4 414.66,469.4 424.90,469.4 435.13,469.4 445.37,469.4 455.61,469.4 465.85,469.4 476.09,469.4 486.33,469.4 496.57,469.4 506.81,469.4 517.05,469.4 527.29,469.4 537.53,469.4 547.77,469.4 558.01,469.4 568.25,469.4 578.49,469.4 588.73,469.4 598.97,469.4 609.21,469.4 619.45,469.4 629.69,469.4 639.93,469.4 650.17,469.4 660.40,469.4 670.64,469.4 680.88,469.4 691.12,469.4 701.36,469.4 711.60,469.4 721.84,469.4 732.08,469.4 742.32,469.4 752.56,469.4 762.80,469.4 773.04,469.4 783.28,469.4" fill="none" stroke="#ff0080" stroke-width="4.0" stroke-linejoin="round" stroke-linecap="butt"/>
<polyline points="66.51,469.4 76.75,469.4 86.99,469.4 97.23,469.3 107.47,469.3 117.71,469.2 127.95,469.2 138.19,469.1 148.43,469.0 158.67,468.8 168.91,468.7 179.15,468.2 189.39,467.3 199.63,466.2 209.87,464.5 220.10,460.7 230.34,454.6 240.58,449.0 250.82,448.2 261.06,452.0 271.30,457.8 281.54,462.2 291.78,465.6 302.02,467.5 312.26,468.7 322.50,469.2 332.74,469.4 342.98,469.4 353.22,469.4 363.46,469.4 373.70,469.4 383.94,469.4 394.18,469.4 404.42,469.4 414.66,469.4 424.90,469.4 435.13,469.4 445.37,469.4 455.61,469.4 465.85,469.4 476.09,469.4 486.33,469.4 496.57,469.4 506.81,469.4 517.05,469.4 527.29,469.4 537.53,469.4 547.77,469.4 558.01,469.4 568.25,469.4 578.49,469.4 588.73,469.4 598.97,469.4 609.21,469.4 619.45,469.4 629.69,469.4 639.93,469.4 650.17,469.4 660.40,469.4 670.64,469.4 680.88,469.4 691.12,469.4 701.36,469.4 711.60,469.4 721.84,469.4 732.08,469.4 742.32,469.4 752.56,469.4 762.80,469.4 773.04,469.4 783.28,469.4" fill="none" stroke="#008000" stroke-width="4.0" stroke-linejoin="round" stroke-linecap="butt"/>
<polyline points="66.51,469.4 76.75,469.2 86.99,468.7 97.23,468.0 107.47,466.8 117.71,465.4 127.95,463.7 138.19,461.8 148.43,459.3 158.67,456.2 168.91,451.8 179.15,444.2 189.39,433.2 199.63,421.5 209.87,409.0 220.10,398.2 230.34,398.1 240.58,408.5 250.82,432.3 261.06,448.7 271.30,456.9 281.54,463.5 291.78,466.7 302.02,468.6 312.26,469.2 322.50,469.4 332.74,469.4 342.98,469.4 353.22,469.4 363.46,469.4 373.70,469.4 383.94,469.4 394.18,469.4 404.42,469.4 414.66,469.4 424.90,469.4 435.13,469.4 445.37,469.4 455.61,469.4 465.85,469.4 476.09,469.4 486.33,469.4 496.57,469.4 506.81,469.4 517.05,469.4 527.29,469.4 537.53,469.4 547.77,469.4 558.01,469.4 568.25,469.4 578.49,469.4 588.73,469.4 598.97,469.4 609.21,469.4 619.45,469.4 629.69,469.4 639.93,469.4 650.17,469.4 660.40,469.4 670.64,469.4 680.88,469.4 691.12,469.4 701.36,469.4 711.60,469.4 721.84,469.4 732.08,469.4 742.32,469.4 752.56,469.4 762.80,469.4 773.04,469.4 783.28,469.4" fill="none" stroke="#0000a0" stroke-width="4.0" stroke-linejoin="round" stroke-linecap="butt"/>
<polyline points="66.51,469.4 76.75,469.2 86.99,468.6 97.23,467.9 107.47,466.6 117.71,465.1 127.95,463.4 138.19,461.3 148.43,458.7 158.67,455.4 168.91,450.7 179.15,442.5 189.39,430.9 199.63,418.6 209.87,405.6 220.10,394.8 230.34,394.8 240.58,406.7 250.82,431.6 261.06,448.3 271.30,456.7 281.54,463.5 291.78,466.7 302.02,468.6 312.26,469.2 322.50,469.4 332.74,469.4 342.98,469.4 353.22,469.4 363.46,469.4 373.70,469.4 383.94,469.4 394.18,469.4 404.42,469.4 414.66,469.4 424.90,469.4 435.13,469.4 445.37,469.4 455.61,469.4 465.85,469.4 476.09,469.4 486.33,469.4 496.57,469.4 506.81,469.4 517.05,469.4 527.29,469.4 537.53,469.4 547.77,469.4 558.01,469.4 568.25,469.4 578.49,469.4 588.73,469.4 598.97,469.4 609.21,469.4 619.45,469.4 629.69,469.4 639.93,469.4 650.17,469.4 660.40,469.4 670.64,469.4 680.88,469.4 691.12,469.4 701.36,469.4 711.60,469.4 721.84,469.4 732.08,469.4 742.32,469.4 752.56,469.4 762.80,469.4 773.04,469.4 783.28,469.4" fill="none" stroke="#ff8000" stroke-width="4.0" stroke-linejoin="round" stroke-linecap="butt"/>
<polyline points="66.51,110.7 76.75,110.8 86.99,111.2 97.23,111.7 107.47,112.8 117.71,114.3 127.95,117.1 138.19,121.2 148.43,127.9 158.67,136.7 168.91,147.7 179.15,165.9 189.39,192.9 199.63,232.1 209.87,278.4 220.10,335.1 230.34,380.7 240.58,419.4 250.82,452.5 261.06,464.1 271.30,466.9 281.54,468.2 291.78,469.0 302.02,469.3 312.26,469.4 322.50,469.4 332.74,469.4 342.98,469.4 353.22,469.4 363.46,469.4 373.70,469.4 383.94,469.4 394.18,469.4 404.42,469.4 414.66,469.4 424.90,469.4 435.13,469.4 445.37,469.4 455.61,469.4 465.85,469.4 476.09,469.4 486.33,469.4 496.57,469.4 506.81,469.4 517.05,469.4 527.29,469.4 537.53,469.4 547.77,469.4 558.01,469.4 568.25,469.4 578.49,469.4 588.73,469.4 598.97,469.4 609.21,469.4 619.45,469.4 629.69,469.4 639.93,469.4 650.17,469.4 660.40,469.4 670.64,469.4 680.88,469.4 691.12,469.4 701.36,469.4 711.60,469.4 721.84,469.4 732.08,469.4 742.32,469.4 752.56,469.4 762.80,469.4 773.04,469.4 783.28,469.4" fill="none" stroke="#800080" stroke-width="4.0" stroke-linejoin="round" stroke-linecap="butt"/>
</g>
<rect x="79.3" y="11.1" width="571.3" height="86.6" fill="#fff" stroke="#000" stroke-width="1"/>
<line x1="84.1" y1="24.8" x2="132.6" y2="24.8" stroke="#800080" stroke-width="3.6" stroke-linecap="round"/>
<text x="138.8" y="31.5" font-family='"Liberation Serif", "Times New Roman", serif' font-size="21.5" font-weight="bold" fill="#000" text-anchor="start" textLength="59.0" lengthAdjust="spacingAndGlyphs"  stroke="#000" stroke-width="0.35" stroke-linejoin="round">(-13)%</text>
<line x1="200.2" y1="24.8" x2="248.7" y2="24.8" stroke="#ff8000" stroke-width="3.6" stroke-linecap="round"/>
<text x="254.9" y="31.5" font-family='"Liberation Serif", "Times New Roman", serif' font-size="21.5" font-weight="bold" fill="#000" text-anchor="start" textLength="59.0" lengthAdjust="spacingAndGlyphs"  stroke="#000" stroke-width="0.35" stroke-linejoin="round">(-12)%</text>
<line x1="316.3" y1="24.8" x2="364.8" y2="24.8" stroke="#0000a0" stroke-width="3.6" stroke-linecap="round"/>
<text x="371.0" y="31.5" font-family='"Liberation Serif", "Times New Roman", serif' font-size="21.5" font-weight="bold" fill="#000" text-anchor="start" textLength="59.0" lengthAdjust="spacingAndGlyphs"  stroke="#000" stroke-width="0.35" stroke-linejoin="round">(-11)%</text>
<line x1="432.4" y1="24.8" x2="480.9" y2="24.8" stroke="#008000" stroke-width="3.6" stroke-linecap="round"/>
<text x="487.1" y="31.5" font-family='"Liberation Serif", "Times New Roman", serif' font-size="21.5" font-weight="bold" fill="#000" text-anchor="start" textLength="59.0" lengthAdjust="spacingAndGlyphs"  stroke="#000" stroke-width="0.35" stroke-linejoin="round">(-10)%</text>
<line x1="548.5" y1="24.8" x2="597.0" y2="24.8" stroke="#ff0080" stroke-width="3.6" stroke-linecap="round"/>
<text x="603.2" y="31.5" font-family='"Liberation Serif", "Times New Roman", serif' font-size="21.5" font-weight="bold" fill="#000" text-anchor="start" textLength="48.8" lengthAdjust="spacingAndGlyphs"  stroke="#000" stroke-width="0.35" stroke-linejoin="round">(-9)%</text>
<line x1="104.0" y1="54.3" x2="152.5" y2="54.3" stroke="#800000" stroke-width="3.6" stroke-linecap="round"/>
<text x="158.7" y="61.0" font-family='"Liberation Serif", "Times New Roman", serif' font-size="21.5" font-weight="bold" fill="#000" text-anchor="start" textLength="48.8" lengthAdjust="spacingAndGlyphs"  stroke="#000" stroke-width="0.35" stroke-linejoin="round">(-8)%</text>
<line x1="210.2" y1="54.3" x2="258.7" y2="54.3" stroke="#000080" stroke-width="3.6" stroke-linecap="round"/>
<text x="264.9" y="61.0" font-family='"Liberation Serif", "Times New Roman", serif' font-size="21.5" font-weight="bold" fill="#000" text-anchor="start" textLength="48.8" lengthAdjust="spacingAndGlyphs"  stroke="#000" stroke-width="0.35" stroke-linejoin="round">(-7)%</text>
<line x1="316.4" y1="54.3" x2="364.9" y2="54.3" stroke="#808000" stroke-width="3.6" stroke-linecap="round"/>
<text x="371.1" y="61.0" font-family='"Liberation Serif", "Times New Roman", serif' font-size="21.5" font-weight="bold" fill="#000" text-anchor="start" textLength="48.8" lengthAdjust="spacingAndGlyphs"  stroke="#000" stroke-width="0.35" stroke-linejoin="round">(-6)%</text>
<line x1="422.6" y1="54.3" x2="471.1" y2="54.3" stroke="#ff00ff" stroke-width="3.6" stroke-linecap="round"/>
<text x="477.3" y="61.0" font-family='"Liberation Serif", "Times New Roman", serif' font-size="21.5" font-weight="bold" fill="#000" text-anchor="start" textLength="48.8" lengthAdjust="spacingAndGlyphs"  stroke="#000" stroke-width="0.35" stroke-linejoin="round">(-5)%</text>
<line x1="528.8" y1="54.3" x2="577.3" y2="54.3" stroke="#008080" stroke-width="3.6" stroke-linecap="round"/>
<text x="583.5" y="61.0" font-family='"Liberation Serif", "Times New Roman", serif' font-size="21.5" font-weight="bold" fill="#000" text-anchor="start" textLength="48.8" lengthAdjust="spacingAndGlyphs"  stroke="#000" stroke-width="0.35" stroke-linejoin="round">(-4)%</text>
<line x1="182.0" y1="84.1" x2="230.5" y2="84.1" stroke="#0000ff" stroke-width="3.6" stroke-linecap="round"/>
<text x="236.7" y="90.8" font-family='"Liberation Serif", "Times New Roman", serif' font-size="21.5" font-weight="bold" fill="#000" text-anchor="start" textLength="48.8" lengthAdjust="spacingAndGlyphs"  stroke="#000" stroke-width="0.35" stroke-linejoin="round">(-3)%</text>
<line x1="288.3" y1="84.1" x2="336.8" y2="84.1" stroke="#ff0000" stroke-width="3.6" stroke-linecap="round"/>
<text x="343.0" y="90.8" font-family='"Liberation Serif", "Times New Roman", serif' font-size="21.5" font-weight="bold" fill="#000" text-anchor="start" textLength="48.8" lengthAdjust="spacingAndGlyphs"  stroke="#000" stroke-width="0.35" stroke-linejoin="round">(-2)%</text>
<line x1="394.6" y1="84.1" x2="443.1" y2="84.1" stroke="#000000" stroke-width="3.6" stroke-linecap="round"/>
<text x="449.3" y="90.8" font-family='"Liberation Serif", "Times New Roman", serif' font-size="21.5" font-weight="bold" fill="#000" text-anchor="start" textLength="48.8" lengthAdjust="spacingAndGlyphs"  stroke="#000" stroke-width="0.35" stroke-linejoin="round">(-1)%</text>
<text x="64.5" y="145.9" font-family='"Liberation Sans", Arial, sans-serif' font-size="21.2" font-weight="bold" fill="#800080" text-anchor="start" textLength="63.5" lengthAdjust="spacingAndGlyphs"  stroke="#800080" stroke-width="0.2" stroke-linejoin="round">99.95%</text>
<text x="351.5" y="543.9" font-family='"Liberation Serif", "Times New Roman", serif' font-size="24.8" font-weight="bold" fill="#000" text-anchor="start" textLength="31.2" lengthAdjust="spacingAndGlyphs"  stroke="#000" stroke-width="0.4" stroke-linejoin="round">pH</text>
<text x="345.4" y="592.0" font-family='"Liberation Serif", "Times New Roman", serif' font-size="34" font-weight="bold" fill="#000" text-anchor="start" textLength="39.2" lengthAdjust="spacingAndGlyphs"  stroke="#000" stroke-width="0.4" stroke-linejoin="round">(a)</text>
<text transform="translate(18.8,287.5) rotate(-90)" text-anchor="middle" font-family='"Liberation Serif", "Times New Roman", serif' font-size="26" font-weight="bold" stroke="#000" stroke-width="0.4" textLength="337" lengthAdjust="spacingAndGlyphs">Macrospecies distribution (%)</text>
</g>
<g id="chartB">
<rect x="80.7" y="633.1" width="570.6" height="464.0" fill="none" stroke="#000" stroke-width="3.3"/>
<line x1="73.7" y1="1097.3" x2="80.7" y2="1097.3" stroke="#000" stroke-width="3.1"/>
<line x1="69.7" y1="1061.6" x2="80.7" y2="1061.6" stroke="#000" stroke-width="3.1"/>
<line x1="640.3" y1="1061.6" x2="651.3" y2="1061.6" stroke="#000" stroke-width="3.1"/>
<text x="67.2" y="1065.7" font-family='"Liberation Sans", Arial, sans-serif' font-size="16.0" font-weight="bold" fill="#000" text-anchor="end"  stroke="#000" stroke-width="0.3" stroke-linejoin="round">0</text>
<line x1="73.7" y1="1025.9" x2="80.7" y2="1025.9" stroke="#000" stroke-width="3.1"/>
<line x1="644.3" y1="1025.9" x2="651.3" y2="1025.9" stroke="#000" stroke-width="3.1"/>
<line x1="69.7" y1="990.1" x2="80.7" y2="990.1" stroke="#000" stroke-width="3.1"/>
<line x1="640.3" y1="990.1" x2="651.3" y2="990.1" stroke="#000" stroke-width="3.1"/>
<text x="67.2" y="994.2" font-family='"Liberation Sans", Arial, sans-serif' font-size="16.0" font-weight="bold" fill="#000" text-anchor="end"  stroke="#000" stroke-width="0.3" stroke-linejoin="round">20</text>
<line x1="73.7" y1="954.4" x2="80.7" y2="954.4" stroke="#000" stroke-width="3.1"/>
<line x1="644.3" y1="954.4" x2="651.3" y2="954.4" stroke="#000" stroke-width="3.1"/>
<line x1="69.7" y1="918.7" x2="80.7" y2="918.7" stroke="#000" stroke-width="3.1"/>
<line x1="640.3" y1="918.7" x2="651.3" y2="918.7" stroke="#000" stroke-width="3.1"/>
<text x="67.2" y="922.7" font-family='"Liberation Sans", Arial, sans-serif' font-size="16.0" font-weight="bold" fill="#000" text-anchor="end"  stroke="#000" stroke-width="0.3" stroke-linejoin="round">40</text>
<line x1="73.7" y1="882.9" x2="80.7" y2="882.9" stroke="#000" stroke-width="3.1"/>
<line x1="644.3" y1="882.9" x2="651.3" y2="882.9" stroke="#000" stroke-width="3.1"/>
<line x1="69.7" y1="847.2" x2="80.7" y2="847.2" stroke="#000" stroke-width="3.1"/>
<line x1="640.3" y1="847.2" x2="651.3" y2="847.2" stroke="#000" stroke-width="3.1"/>
<text x="67.2" y="851.3" font-family='"Liberation Sans", Arial, sans-serif' font-size="16.0" font-weight="bold" fill="#000" text-anchor="end"  stroke="#000" stroke-width="0.3" stroke-linejoin="round">60</text>
<line x1="73.7" y1="811.5" x2="80.7" y2="811.5" stroke="#000" stroke-width="3.1"/>
<line x1="644.3" y1="811.5" x2="651.3" y2="811.5" stroke="#000" stroke-width="3.1"/>
<line x1="69.7" y1="775.8" x2="80.7" y2="775.8" stroke="#000" stroke-width="3.1"/>
<line x1="640.3" y1="775.8" x2="651.3" y2="775.8" stroke="#000" stroke-width="3.1"/>
<text x="67.2" y="779.8" font-family='"Liberation Sans", Arial, sans-serif' font-size="16.0" font-weight="bold" fill="#000" text-anchor="end"  stroke="#000" stroke-width="0.3" stroke-linejoin="round">80</text>
<line x1="73.7" y1="740.0" x2="80.7" y2="740.0" stroke="#000" stroke-width="3.1"/>
<line x1="644.3" y1="740.0" x2="651.3" y2="740.0" stroke="#000" stroke-width="3.1"/>
<line x1="69.7" y1="704.3" x2="80.7" y2="704.3" stroke="#000" stroke-width="3.1"/>
<line x1="640.3" y1="704.3" x2="651.3" y2="704.3" stroke="#000" stroke-width="3.1"/>
<text x="67.2" y="708.4" font-family='"Liberation Sans", Arial, sans-serif' font-size="16.0" font-weight="bold" fill="#000" text-anchor="end"  stroke="#000" stroke-width="0.3" stroke-linejoin="round">100</text>
<line x1="73.7" y1="668.6" x2="80.7" y2="668.6" stroke="#000" stroke-width="3.1"/>
<line x1="644.3" y1="668.6" x2="651.3" y2="668.6" stroke="#000" stroke-width="3.1"/>
<line x1="69.7" y1="632.8" x2="80.7" y2="632.8" stroke="#000" stroke-width="3.1"/>
<text x="67.2" y="636.9" font-family='"Liberation Sans", Arial, sans-serif' font-size="16.0" font-weight="bold" fill="#000" text-anchor="end"  stroke="#000" stroke-width="0.3" stroke-linejoin="round">120</text>
<line x1="80.9" y1="1097.1" x2="80.9" y2="1108.1" stroke="#000" stroke-width="3.1"/>
<text x="80.9" y="1124.9" font-family='"Liberation Sans", Arial, sans-serif' font-size="17.2" font-weight="bold" fill="#000" text-anchor="middle"  stroke="#000" stroke-width="0.3" stroke-linejoin="round">0</text>
<line x1="121.6" y1="1097.1" x2="121.6" y2="1104.1" stroke="#000" stroke-width="3.1"/>
<line x1="162.4" y1="1097.1" x2="162.4" y2="1108.1" stroke="#000" stroke-width="3.1"/>
<text x="162.4" y="1124.9" font-family='"Liberation Sans", Arial, sans-serif' font-size="17.2" font-weight="bold" fill="#000" text-anchor="middle"  stroke="#000" stroke-width="0.3" stroke-linejoin="round">2</text>
<line x1="203.1" y1="1097.1" x2="203.1" y2="1104.1" stroke="#000" stroke-width="3.1"/>
<line x1="243.9" y1="1097.1" x2="243.9" y2="1108.1" stroke="#000" stroke-width="3.1"/>
<text x="243.9" y="1124.9" font-family='"Liberation Sans", Arial, sans-serif' font-size="17.2" font-weight="bold" fill="#000" text-anchor="middle"  stroke="#000" stroke-width="0.3" stroke-linejoin="round">4</text>
<line x1="284.6" y1="1097.1" x2="284.6" y2="1104.1" stroke="#000" stroke-width="3.1"/>
<line x1="325.3" y1="1097.1" x2="325.3" y2="1108.1" stroke="#000" stroke-width="3.1"/>
<text x="325.3" y="1124.9" font-family='"Liberation Sans", Arial, sans-serif' font-size="17.2" font-weight="bold" fill="#000" text-anchor="middle"  stroke="#000" stroke-width="0.3" stroke-linejoin="round">6</text>
<line x1="366.1" y1="1097.1" x2="366.1" y2="1104.1" stroke="#000" stroke-width="3.1"/>
<line x1="406.8" y1="1097.1" x2="406.8" y2="1108.1" stroke="#000" stroke-width="3.1"/>
<text x="406.8" y="1124.9" font-family='"Liberation Sans", Arial, sans-serif' font-size="17.2" font-weight="bold" fill="#000" text-anchor="middle"  stroke="#000" stroke-width="0.3" stroke-linejoin="round">8</text>
<line x1="447.6" y1="1097.1" x2="447.6" y2="1104.1" stroke="#000" stroke-width="3.1"/>
<line x1="488.3" y1="1097.1" x2="488.3" y2="1108.1" stroke="#000" stroke-width="3.1"/>
<text x="488.3" y="1124.9" font-family='"Liberation Sans", Arial, sans-serif' font-size="17.2" font-weight="bold" fill="#000" text-anchor="middle"  stroke="#000" stroke-width="0.3" stroke-linejoin="round">10</text>
<line x1="529.0" y1="1097.1" x2="529.0" y2="1104.1" stroke="#000" stroke-width="3.1"/>
<line x1="569.8" y1="1097.1" x2="569.8" y2="1108.1" stroke="#000" stroke-width="3.1"/>
<text x="569.8" y="1124.9" font-family='"Liberation Sans", Arial, sans-serif' font-size="17.2" font-weight="bold" fill="#000" text-anchor="middle"  stroke="#000" stroke-width="0.3" stroke-linejoin="round">12</text>
<line x1="610.5" y1="1097.1" x2="610.5" y2="1104.1" stroke="#000" stroke-width="3.1"/>
<line x1="651.3" y1="1097.1" x2="651.3" y2="1108.1" stroke="#000" stroke-width="3.1"/>
<text x="651.3" y="1124.9" font-family='"Liberation Sans", Arial, sans-serif' font-size="17.2" font-weight="bold" fill="#000" text-anchor="middle"  stroke="#000" stroke-width="0.3" stroke-linejoin="round">14</text>
<g id="molB">
<line x1="143.0" y1="789.0" x2="134.3" y2="831.8" stroke="#000000" stroke-width="2.05" stroke-linecap="round"/>
<line x1="134.3" y1="831.8" x2="172.0" y2="854.0" stroke="#000000" stroke-width="2.05" stroke-linecap="round"/>
<line x1="143.3" y1="828.5" x2="170.5" y2="844.5" stroke="#000000" stroke-width="2.05" stroke-linecap="round"/>
<line x1="172.0" y1="854.0" x2="184.1" y2="842.2" stroke="#000000" stroke-width="2.05" stroke-linecap="round"/>
<line x1="184.1" y1="842.2" x2="196.2" y2="830.3" stroke="#0000ff" stroke-width="2.05" stroke-linecap="round"/>
<line x1="198.9" y1="815.8" x2="188.2" y2="792.2" stroke="#0000ff" stroke-width="2.05" stroke-linecap="round"/>
<line x1="175.6" y1="785.1" x2="159.3" y2="787.0" stroke="#0000ff" stroke-width="2.05" stroke-linecap="round"/>
<line x1="159.3" y1="787.0" x2="143.0" y2="789.0" stroke="#000000" stroke-width="2.05" stroke-linecap="round"/>
<line x1="175.0" y1="792.6" x2="162.3" y2="794.1" stroke="#0000ff" stroke-width="2.05" stroke-linecap="round"/>
<line x1="162.3" y1="794.1" x2="149.7" y2="795.6" stroke="#000000" stroke-width="2.05" stroke-linecap="round"/>
<line x1="119.4" y1="763.6" x2="143.0" y2="789.0" stroke="#000000" stroke-width="2.05" stroke-linecap="round"/>
<line x1="172.0" y1="854.0" x2="176.4" y2="887.7" stroke="#000000" stroke-width="2.05" stroke-linecap="round"/>
<line x1="212.6" y1="823.8" x2="229.7" y2="823.5" stroke="#0000ff" stroke-width="2.05" stroke-linecap="round"/>
<line x1="229.7" y1="823.5" x2="246.8" y2="823.2" stroke="#000000" stroke-width="2.05" stroke-linecap="round"/>
<line x1="246.8" y1="823.2" x2="254.8" y2="839.1" stroke="#000000" stroke-width="2.05" stroke-linecap="round"/>
<line x1="254.8" y1="839.1" x2="262.9" y2="855.1" stroke="#0000ff" stroke-width="2.05" stroke-linecap="round"/>
<line x1="311.0" y1="862.2" x2="332.7" y2="822.8" stroke="#000000" stroke-width="2.05" stroke-linecap="round"/>
<line x1="320.5" y1="860.3" x2="336.1" y2="831.9" stroke="#000000" stroke-width="2.05" stroke-linecap="round"/>
<line x1="332.7" y1="822.8" x2="375.9" y2="822.8" stroke="#000000" stroke-width="2.05" stroke-linecap="round"/>
<line x1="375.9" y1="822.8" x2="396.6" y2="862.2" stroke="#000000" stroke-width="2.05" stroke-linecap="round"/>
<line x1="372.2" y1="831.8" x2="387.2" y2="860.1" stroke="#000000" stroke-width="2.05" stroke-linecap="round"/>
<line x1="396.6" y1="862.2" x2="375.9" y2="900.7" stroke="#000000" stroke-width="2.05" stroke-linecap="round"/>
<line x1="375.9" y1="900.7" x2="332.7" y2="900.7" stroke="#000000" stroke-width="2.05" stroke-linecap="round"/>
<line x1="369.9" y1="893.3" x2="338.7" y2="893.3" stroke="#000000" stroke-width="2.05" stroke-linecap="round"/>
<line x1="332.7" y1="900.7" x2="311.0" y2="862.2" stroke="#000000" stroke-width="2.05" stroke-linecap="round"/>
<line x1="276.4" y1="863.6" x2="293.7" y2="862.9" stroke="#0000ff" stroke-width="2.05" stroke-linecap="round"/>
<line x1="293.7" y1="862.9" x2="311.0" y2="862.2" stroke="#000000" stroke-width="2.05" stroke-linecap="round"/>
<line x1="396.6" y1="862.2" x2="413.6" y2="862.6" stroke="#000000" stroke-width="2.05" stroke-linecap="round"/>
<line x1="413.6" y1="862.6" x2="430.5" y2="863.0" stroke="#0000ff" stroke-width="2.05" stroke-linecap="round"/>
<line x1="430.6" y1="784.8" x2="406.8" y2="784.4" stroke="#0000ff" stroke-width="2.05" stroke-linecap="round"/>
<line x1="395.4" y1="775.6" x2="390.4" y2="757.3" stroke="#0000ff" stroke-width="2.05" stroke-linecap="round"/>
<line x1="390.4" y1="757.3" x2="385.3" y2="739.0" stroke="#000000" stroke-width="2.05" stroke-linecap="round"/>
<line x1="402.1" y1="772.2" x2="398.2" y2="757.8" stroke="#0000ff" stroke-width="2.05" stroke-linecap="round"/>
<line x1="398.2" y1="757.8" x2="394.2" y2="743.4" stroke="#000000" stroke-width="2.05" stroke-linecap="round"/>
<line x1="385.3" y1="739.0" x2="421.2" y2="715.7" stroke="#000000" stroke-width="2.05" stroke-linecap="round"/>
<line x1="421.2" y1="715.7" x2="454.2" y2="744.0" stroke="#000000" stroke-width="2.05" stroke-linecap="round"/>
<line x1="421.0" y1="725.3" x2="444.8" y2="745.7" stroke="#000000" stroke-width="2.05" stroke-linecap="round"/>
<line x1="454.2" y1="744.0" x2="448.4" y2="760.2" stroke="#000000" stroke-width="2.05" stroke-linecap="round"/>
<line x1="448.4" y1="760.2" x2="442.6" y2="776.4" stroke="#0000ff" stroke-width="2.05" stroke-linecap="round"/>
<line x1="352.6" y1="725.6" x2="385.3" y2="739.0" stroke="#000000" stroke-width="2.05" stroke-linecap="round"/>
<line x1="454.2" y1="744.0" x2="488.3" y2="733.2" stroke="#000000" stroke-width="2.05" stroke-linecap="round"/>
<line x1="444.6" y1="793.6" x2="453.0" y2="808.2" stroke="#0000ff" stroke-width="2.05" stroke-linecap="round"/>
<line x1="453.0" y1="808.2" x2="461.4" y2="822.8" stroke="#000000" stroke-width="2.05" stroke-linecap="round"/>
<line x1="461.4" y1="822.8" x2="452.8" y2="838.6" stroke="#000000" stroke-width="2.05" stroke-linecap="round"/>
<line x1="452.8" y1="838.6" x2="444.3" y2="854.4" stroke="#0000ff" stroke-width="2.05" stroke-linecap="round"/>
<line x1="510.0" y1="895.3" x2="527.9" y2="877.8" stroke="#0000ff" stroke-width="2.05" stroke-linecap="round"/>
<line x1="542.2" y1="875.8" x2="557.3" y2="883.9" stroke="#0000ff" stroke-width="2.05" stroke-linecap="round"/>
<line x1="557.3" y1="883.9" x2="572.3" y2="892.0" stroke="#000000" stroke-width="2.05" stroke-linecap="round"/>
<line x1="540.0" y1="883.0" x2="551.7" y2="889.3" stroke="#0000ff" stroke-width="2.05" stroke-linecap="round"/>
<line x1="551.7" y1="889.3" x2="563.5" y2="895.6" stroke="#000000" stroke-width="2.05" stroke-linecap="round"/>
<line x1="572.3" y1="892.0" x2="565.8" y2="935.8" stroke="#000000" stroke-width="2.05" stroke-linecap="round"/>
<line x1="565.8" y1="935.8" x2="522.6" y2="941.6" stroke="#000000" stroke-width="2.05" stroke-linecap="round"/>
<line x1="558.8" y1="929.3" x2="527.7" y2="933.5" stroke="#000000" stroke-width="2.05" stroke-linecap="round"/>
<line x1="522.6" y1="941.6" x2="515.0" y2="925.7" stroke="#000000" stroke-width="2.05" stroke-linecap="round"/>
<line x1="515.0" y1="925.7" x2="507.5" y2="909.7" stroke="#0000ff" stroke-width="2.05" stroke-linecap="round"/>
<line x1="444.5" y1="871.8" x2="452.9" y2="886.3" stroke="#0000ff" stroke-width="2.05" stroke-linecap="round"/>
<line x1="452.9" y1="886.3" x2="461.3" y2="900.7" stroke="#000000" stroke-width="2.05" stroke-linecap="round"/>
<line x1="461.3" y1="900.7" x2="477.5" y2="901.0" stroke="#000000" stroke-width="2.05" stroke-linecap="round"/>
<line x1="477.5" y1="901.0" x2="493.6" y2="901.4" stroke="#0000ff" stroke-width="2.05" stroke-linecap="round"/>
<line x1="572.3" y1="892.0" x2="604.0" y2="875.5" stroke="#000000" stroke-width="2.05" stroke-linecap="round"/>
<line x1="522.6" y1="941.6" x2="506.6" y2="969.3" stroke="#000000" stroke-width="2.05" stroke-linecap="round"/>
<line x1="276.6" y1="941.5" x2="300.2" y2="942.7" stroke="#0000ff" stroke-width="2.05" stroke-linecap="round"/>
<line x1="311.6" y1="951.9" x2="316.3" y2="969.1" stroke="#0000ff" stroke-width="2.05" stroke-linecap="round"/>
<line x1="316.3" y1="969.1" x2="321.0" y2="986.3" stroke="#000000" stroke-width="2.05" stroke-linecap="round"/>
<line x1="304.8" y1="955.3" x2="308.5" y2="968.8" stroke="#0000ff" stroke-width="2.05" stroke-linecap="round"/>
<line x1="308.5" y1="968.8" x2="312.2" y2="982.2" stroke="#000000" stroke-width="2.05" stroke-linecap="round"/>
<line x1="321.0" y1="986.3" x2="284.5" y2="1009.5" stroke="#000000" stroke-width="2.05" stroke-linecap="round"/>
<line x1="284.5" y1="1009.5" x2="251.2" y2="981.4" stroke="#000000" stroke-width="2.05" stroke-linecap="round"/>
<line x1="284.6" y1="999.9" x2="260.6" y2="979.7" stroke="#000000" stroke-width="2.05" stroke-linecap="round"/>
<line x1="251.2" y1="981.4" x2="257.7" y2="965.4" stroke="#000000" stroke-width="2.05" stroke-linecap="round"/>
<line x1="257.7" y1="965.4" x2="264.2" y2="949.3" stroke="#0000ff" stroke-width="2.05" stroke-linecap="round"/>
<line x1="262.5" y1="872.7" x2="254.7" y2="886.7" stroke="#0000ff" stroke-width="2.05" stroke-linecap="round"/>
<line x1="254.7" y1="886.7" x2="246.8" y2="900.7" stroke="#000000" stroke-width="2.05" stroke-linecap="round"/>
<line x1="246.8" y1="900.7" x2="254.9" y2="916.4" stroke="#000000" stroke-width="2.05" stroke-linecap="round"/>
<line x1="254.9" y1="916.4" x2="263.0" y2="932.1" stroke="#0000ff" stroke-width="2.05" stroke-linecap="round"/>
<line x1="251.2" y1="981.4" x2="216.5" y2="989.0" stroke="#000000" stroke-width="2.05" stroke-linecap="round"/>
<line x1="321.0" y1="986.3" x2="352.3" y2="999.3" stroke="#000000" stroke-width="2.05" stroke-linecap="round"/>
<text x="202.6" y="829.7" font-family='"Liberation Sans", Arial, sans-serif' font-size="16" font-weight="normal" fill="#0000ff" text-anchor="middle" textLength="9.6" lengthAdjust="spacingAndGlyphs"  stroke="#0000ff" stroke-width="0.4" stroke-linejoin="round">N</text>
<text x="267.4" y="869.7" font-family='"Liberation Sans", Arial, sans-serif' font-size="16" font-weight="normal" fill="#0000ff" text-anchor="middle" textLength="9.6" lengthAdjust="spacingAndGlyphs"  stroke="#0000ff" stroke-width="0.4" stroke-linejoin="round">N</text>
<text x="439.5" y="868.9" font-family='"Liberation Sans", Arial, sans-serif' font-size="16" font-weight="normal" fill="#0000ff" text-anchor="middle" textLength="9.6" lengthAdjust="spacingAndGlyphs"  stroke="#0000ff" stroke-width="0.4" stroke-linejoin="round">N</text>
<text x="439.6" y="790.6" font-family='"Liberation Sans", Arial, sans-serif' font-size="16" font-weight="normal" fill="#0000ff" text-anchor="middle" textLength="9.6" lengthAdjust="spacingAndGlyphs"  stroke="#0000ff" stroke-width="0.4" stroke-linejoin="round">N</text>
<text x="503.6" y="907.3" font-family='"Liberation Sans", Arial, sans-serif' font-size="16" font-weight="normal" fill="#0000ff" text-anchor="middle" textLength="9.6" lengthAdjust="spacingAndGlyphs"  stroke="#0000ff" stroke-width="0.4" stroke-linejoin="round">N</text>
<text x="267.6" y="946.7" font-family='"Liberation Sans", Arial, sans-serif' font-size="16" font-weight="normal" fill="#0000ff" text-anchor="middle" textLength="9.6" lengthAdjust="spacingAndGlyphs"  stroke="#0000ff" stroke-width="0.4" stroke-linejoin="round">N</text>
<text x="180.0" y="790.3" font-family='"Liberation Sans", Arial, sans-serif' font-size="16" font-weight="normal" fill="#0000ff" text-anchor="start" textLength="19.5" lengthAdjust="spacingAndGlyphs"  stroke="#0000ff" stroke-width="0.4" stroke-linejoin="round">NH</text>
<text x="199.8" y="780.0" font-family='"Liberation Sans", Arial, sans-serif' font-size="8" font-weight="normal" fill="#0000ff" text-anchor="start" >+</text>
<text x="383.0" y="790.2" font-family='"Liberation Sans", Arial, sans-serif' font-size="16" font-weight="normal" fill="#0000ff" text-anchor="start" textLength="19.5" lengthAdjust="spacingAndGlyphs"  stroke="#0000ff" stroke-width="0.4" stroke-linejoin="round">HN</text>
<text x="400.8" y="778.5" font-family='"Liberation Sans", Arial, sans-serif' font-size="8" font-weight="normal" fill="#0000ff" text-anchor="start" >+</text>
<text x="303.4" y="949.0" font-family='"Liberation Sans", Arial, sans-serif' font-size="16" font-weight="normal" fill="#0000ff" text-anchor="start" textLength="19.5" lengthAdjust="spacingAndGlyphs"  stroke="#0000ff" stroke-width="0.4" stroke-linejoin="round">NH</text>
<text x="323.5" y="939.0" font-family='"Liberation Sans", Arial, sans-serif' font-size="8" font-weight="normal" fill="#0000ff" text-anchor="start" >+</text>
<text x="534.3" y="877.2" font-family='"Liberation Sans", Arial, sans-serif' font-size="16" font-weight="normal" fill="#0000ff" text-anchor="middle" textLength="9.6" lengthAdjust="spacingAndGlyphs"  stroke="#0000ff" stroke-width="0.4" stroke-linejoin="round">N</text>
<text x="530.0" y="861.2" font-family='"Liberation Sans", Arial, sans-serif' font-size="16" font-weight="normal" fill="#0000ff" text-anchor="start" textLength="9.2" lengthAdjust="spacingAndGlyphs"  stroke="#0000ff" stroke-width="0.4" stroke-linejoin="round">H</text>
<text x="540.0" y="861.0" font-family='"Liberation Sans", Arial, sans-serif' font-size="8" font-weight="normal" fill="#0000ff" text-anchor="start" >+</text>
<text x="92.3" y="763.2" font-family='"Liberation Sans", Arial, sans-serif' font-size="16" fill="#000" stroke="#000" stroke-width="0.35" textLength="25" lengthAdjust="spacingAndGlyphs">H<tspan dy="3.5" font-size="10.5">3</tspan><tspan dy="-3.5">C</tspan></text>
<text x="172.0" y="905.0" font-family='"Liberation Sans", Arial, sans-serif' font-size="16" fill="#000" stroke="#000" stroke-width="0.35" textLength="25" lengthAdjust="spacingAndGlyphs">CH<tspan dy="3.5" font-size="10.5">3</tspan></text>
<text x="324.8" y="730.2" font-family='"Liberation Sans", Arial, sans-serif' font-size="16" fill="#000" stroke="#000" stroke-width="0.35" textLength="25" lengthAdjust="spacingAndGlyphs">H<tspan dy="3.5" font-size="10.5">3</tspan><tspan dy="-3.5">C</tspan></text>
<text x="492.0" y="739.5" font-family='"Liberation Sans", Arial, sans-serif' font-size="16" fill="#000" stroke="#000" stroke-width="0.35" textLength="25" lengthAdjust="spacingAndGlyphs">CH<tspan dy="3.5" font-size="10.5">3</tspan></text>
<text x="607.0" y="879.5" font-family='"Liberation Sans", Arial, sans-serif' font-size="16" fill="#000" stroke="#000" stroke-width="0.35" textLength="25" lengthAdjust="spacingAndGlyphs">CH<tspan dy="3.5" font-size="10.5">3</tspan></text>
<text x="480.3" y="987.2" font-family='"Liberation Sans", Arial, sans-serif' font-size="16" fill="#000" stroke="#000" stroke-width="0.35" textLength="25" lengthAdjust="spacingAndGlyphs">H<tspan dy="3.5" font-size="10.5">3</tspan><tspan dy="-3.5">C</tspan></text>
<text x="188.8" y="998.0" font-family='"Liberation Sans", Arial, sans-serif' font-size="16" fill="#000" stroke="#000" stroke-width="0.35" textLength="25" lengthAdjust="spacingAndGlyphs">H<tspan dy="3.5" font-size="10.5">3</tspan><tspan dy="-3.5">C</tspan></text>
<text x="354.6" y="1009.6" font-family='"Liberation Sans", Arial, sans-serif' font-size="16" fill="#000" stroke="#000" stroke-width="0.35" textLength="25" lengthAdjust="spacingAndGlyphs">CH<tspan dy="3.5" font-size="10.5">3</tspan></text>
</g>
<g id="curvesB" transform="scale(0.86,1)">
<polyline points="94.07,1061.6 103.54,1061.6 113.02,1061.6 122.49,1061.6 131.97,1061.6 141.44,1061.6 150.92,1061.6 160.39,1061.6 169.87,1061.6 179.34,1061.6 188.81,1061.6 198.29,1061.6 207.76,1061.6 217.24,1061.6 226.71,1061.6 236.19,1061.2 245.66,1060.0 255.13,1053.9 264.61,1038.7 274.08,1014.4 283.56,965.9 293.03,915.0 302.51,863.5 311.98,818.7 321.46,782.6 330.93,757.4 340.40,739.2 349.88,726.4 359.35,716.5 368.83,711.3 378.30,708.5 387.78,706.5 397.25,705.4 406.73,705.1 416.20,704.8 425.67,704.5 435.15,704.4 444.62,704.3 454.10,704.3 463.57,704.3 473.05,704.3 482.52,704.3 492.00,704.3 501.47,704.3 510.94,704.3 520.42,704.3 529.89,704.3 539.37,704.3 548.84,704.3 558.32,704.3 567.79,704.3 577.27,704.3 586.74,704.3 596.21,704.3 605.69,704.3 615.16,704.3 624.64,704.3 634.11,704.3 643.59,704.3 653.06,704.3 662.53,704.3 672.01,704.3 681.48,704.3 690.96,704.3 700.43,704.3 709.91,704.3 719.38,704.3 728.86,704.3 738.33,704.3 747.80,704.3 757.28,704.3" fill="none" stroke="#000000" stroke-width="3.5" stroke-linejoin="round" stroke-linecap="butt"/>
<polyline points="94.07,1061.6 103.54,1061.6 113.02,1061.6 122.49,1061.6 131.97,1061.6 141.44,1061.6 150.92,1061.6 160.39,1061.6 169.87,1061.6 179.34,1061.6 188.81,1061.6 198.29,1061.3 207.76,1060.6 217.24,1059.8 226.71,1058.3 236.19,1053.3 245.66,1043.2 255.13,1018.2 264.61,975.3 274.08,935.5 283.56,913.3 293.03,915.8 302.51,940.7 311.98,969.9 321.46,992.0 330.93,1010.6 340.40,1025.8 349.88,1037.3 359.35,1046.1 368.83,1051.9 378.30,1056.3 387.78,1058.7 397.25,1059.9 406.73,1060.7 416.20,1061.0 425.67,1061.3 435.15,1061.5 444.62,1061.6 454.10,1061.6 463.57,1061.6 473.05,1061.6 482.52,1061.6 492.00,1061.6 501.47,1061.6 510.94,1061.6 520.42,1061.6 529.89,1061.6 539.37,1061.6 548.84,1061.6 558.32,1061.6 567.79,1061.6 577.27,1061.6 586.74,1061.6 596.21,1061.6 605.69,1061.6 615.16,1061.6 624.64,1061.6 634.11,1061.6 643.59,1061.6 653.06,1061.6 662.53,1061.6 672.01,1061.6 681.48,1061.6 690.96,1061.6 700.43,1061.6 709.91,1061.6 719.38,1061.6 728.86,1061.6 738.33,1061.6 747.80,1061.6 757.28,1061.6" fill="none" stroke="#ff0000" stroke-width="3.5" stroke-linejoin="round" stroke-linecap="butt"/>
<polyline points="94.07,1061.6 103.54,1061.6 113.02,1061.6 122.49,1061.6 131.97,1061.6 141.44,1061.6 150.92,1061.6 160.39,1061.6 169.87,1061.6 179.34,1061.6 188.81,1061.6 198.29,1060.7 207.76,1058.4 217.24,1054.1 226.71,1044.1 236.19,1024.9 245.66,1003.7 255.13,985.4 264.61,973.5 274.08,982.3 283.56,1001.6 293.03,1025.9 302.51,1044.1 311.98,1054.7 321.46,1059.1 330.93,1060.5 340.40,1061.1 349.88,1061.5 359.35,1061.6 368.83,1061.6 378.30,1061.6 387.78,1061.6 397.25,1061.6 406.73,1061.6 416.20,1061.6 425.67,1061.6 435.15,1061.6 444.62,1061.6 454.10,1061.6 463.57,1061.6 473.05,1061.6 482.52,1061.6 492.00,1061.6 501.47,1061.6 510.94,1061.6 520.42,1061.6 529.89,1061.6 539.37,1061.6 548.84,1061.6 558.32,1061.6 567.79,1061.6 577.27,1061.6 586.74,1061.6 596.21,1061.6 605.69,1061.6 615.16,1061.6 624.64,1061.6 634.11,1061.6 643.59,1061.6 653.06,1061.6 662.53,1061.6 672.01,1061.6 681.48,1061.6 690.96,1061.6 700.43,1061.6 709.91,1061.6 719.38,1061.6 728.86,1061.6 738.33,1061.6 747.80,1061.6 757.28,1061.6" fill="none" stroke="#0000ff" stroke-width="3.5" stroke-linejoin="round" stroke-linecap="butt"/>
<polyline points="94.07,1061.6 103.54,1061.6 113.02,1061.6 122.49,1061.6 131.97,1061.6 141.44,1061.6 150.92,1061.6 160.39,1061.6 169.87,1061.6 179.34,1061.6 188.81,1061.6 198.29,1061.0 207.76,1059.5 217.24,1057.2 226.71,1051.5 236.19,1044.2 245.66,1035.1 255.13,1024.4 264.61,1017.3 274.08,1022.9 283.56,1032.9 293.03,1044.5 302.51,1053.5 311.98,1058.6 321.46,1060.4 330.93,1061.2 340.40,1061.5 349.88,1061.6 359.35,1061.6 368.83,1061.6 378.30,1061.6 387.78,1061.6 397.25,1061.6 406.73,1061.6 416.20,1061.6 425.67,1061.6 435.15,1061.6 444.62,1061.6 454.10,1061.6 463.57,1061.6 473.05,1061.6 482.52,1061.6 492.00,1061.6 501.47,1061.6 510.94,1061.6 520.42,1061.6 529.89,1061.6 539.37,1061.6 548.84,1061.6 558.32,1061.6 567.79,1061.6 577.27,1061.6 586.74,1061.6 596.21,1061.6 605.69,1061.6 615.16,1061.6 624.64,1061.6 634.11,1061.6 643.59,1061.6 653.06,1061.6 662.53,1061.6 672.01,1061.6 681.48,1061.6 690.96,1061.6 700.43,1061.6 709.91,1061.6 719.38,1061.6 728.86,1061.6 738.33,1061.6 747.80,1061.6 757.28,1061.6" fill="none" stroke="#008080" stroke-width="3.5" stroke-linejoin="round" stroke-linecap="butt"/>
<polyline points="94.07,1061.6 103.54,1061.4 113.02,1060.8 122.49,1060.1 131.97,1058.9 141.44,1057.3 150.92,1055.1 160.39,1052.1 169.87,1048.0 179.34,1040.7 188.81,1029.4 198.29,1010.5 207.76,987.1 217.24,958.6 226.71,933.3 236.19,917.0 245.66,912.4 255.13,937.0 264.61,976.7 274.08,1007.2 283.56,1037.4 293.03,1054.8 302.51,1059.6 311.98,1061.0 321.46,1061.4 330.93,1061.5 340.40,1061.6 349.88,1061.6 359.35,1061.6 368.83,1061.6 378.30,1061.6 387.78,1061.6 397.25,1061.6 406.73,1061.6 416.20,1061.6 425.67,1061.6 435.15,1061.6 444.62,1061.6 454.10,1061.6 463.57,1061.6 473.05,1061.6 482.52,1061.6 492.00,1061.6 501.47,1061.6 510.94,1061.6 520.42,1061.6 529.89,1061.6 539.37,1061.6 548.84,1061.6 558.32,1061.6 567.79,1061.6 577.27,1061.6 586.74,1061.6 596.21,1061.6 605.69,1061.6 615.16,1061.6 624.64,1061.6 634.11,1061.6 643.59,1061.6 653.06,1061.6 662.53,1061.6 672.01,1061.6 681.48,1061.6 690.96,1061.6 700.43,1061.6 709.91,1061.6 719.38,1061.6 728.86,1061.6 738.33,1061.6 747.80,1061.6 757.28,1061.6" fill="none" stroke="#ff00ff" stroke-width="3.5" stroke-linejoin="round" stroke-linecap="butt"/>
<polyline points="94.07,704.3 103.54,704.4 113.02,704.5 122.49,704.9 131.97,705.8 141.44,707.3 150.92,709.7 160.39,713.0 169.87,718.0 179.34,726.1 188.81,737.0 198.29,753.6 207.76,782.0 217.24,817.3 226.71,862.7 236.19,912.8 245.66,955.8 255.13,1003.1 264.61,1037.1 274.08,1053.7 283.56,1059.7 293.03,1061.1 302.51,1061.6 311.98,1061.6 321.46,1061.6 330.93,1061.6 340.40,1061.6 349.88,1061.6 359.35,1061.6 368.83,1061.6 378.30,1061.6 387.78,1061.6 397.25,1061.6 406.73,1061.6 416.20,1061.6 425.67,1061.6 435.15,1061.6 444.62,1061.6 454.10,1061.6 463.57,1061.6 473.05,1061.6 482.52,1061.6 492.00,1061.6 501.47,1061.6 510.94,1061.6 520.42,1061.6 529.89,1061.6 539.37,1061.6 548.84,1061.6 558.32,1061.6 567.79,1061.6 577.27,1061.6 586.74,1061.6 596.21,1061.6 605.69,1061.6 615.16,1061.6 624.64,1061.6 634.11,1061.6 643.59,1061.6 653.06,1061.6 662.53,1061.6 672.01,1061.6 681.48,1061.6 690.96,1061.6 700.43,1061.6 709.91,1061.6 719.38,1061.6 728.86,1061.6 738.33,1061.6 747.80,1061.6 757.28,1061.6" fill="none" stroke="#808000" stroke-width="3.5" stroke-linejoin="round" stroke-linecap="butt"/>
</g>
<rect x="325.8" y="637.6" width="312.6" height="59.7" fill="#fff" stroke="#000" stroke-width="1"/>
<line x1="342.0" y1="657.3" x2="386.0" y2="657.3" stroke="#000000" stroke-width="3.8" stroke-linecap="round"/>
<text x="391.5" y="664.1" font-family='"Liberation Serif", "Times New Roman", serif' font-size="22" font-weight="bold" fill="#000" text-anchor="start" textLength="45.5" lengthAdjust="spacingAndGlyphs"  stroke="#000" stroke-width="0.35" stroke-linejoin="round">(-1)%</text>
<line x1="440.5" y1="657.3" x2="484.5" y2="657.3" stroke="#ff0000" stroke-width="3.8" stroke-linecap="round"/>
<text x="490.0" y="664.1" font-family='"Liberation Serif", "Times New Roman", serif' font-size="22" font-weight="bold" fill="#000" text-anchor="start" textLength="45.5" lengthAdjust="spacingAndGlyphs"  stroke="#000" stroke-width="0.35" stroke-linejoin="round">(-2)%</text>
<line x1="539.0" y1="657.3" x2="583.0" y2="657.3" stroke="#0000ff" stroke-width="3.8" stroke-linecap="round"/>
<text x="588.5" y="664.1" font-family='"Liberation Serif", "Times New Roman", serif' font-size="22" font-weight="bold" fill="#000" text-anchor="start" textLength="45.5" lengthAdjust="spacingAndGlyphs"  stroke="#000" stroke-width="0.35" stroke-linejoin="round">(-3)%</text>
<line x1="342.0" y1="684.6" x2="386.0" y2="684.6" stroke="#008080" stroke-width="3.8" stroke-linecap="round"/>
<text x="391.5" y="691.4" font-family='"Liberation Serif", "Times New Roman", serif' font-size="22" font-weight="bold" fill="#000" text-anchor="start" textLength="45.5" lengthAdjust="spacingAndGlyphs"  stroke="#000" stroke-width="0.35" stroke-linejoin="round">(-4)%</text>
<line x1="440.5" y1="684.6" x2="484.5" y2="684.6" stroke="#ff00ff" stroke-width="3.8" stroke-linecap="round"/>
<text x="490.0" y="691.4" font-family='"Liberation Serif", "Times New Roman", serif' font-size="22" font-weight="bold" fill="#000" text-anchor="start" textLength="45.5" lengthAdjust="spacingAndGlyphs"  stroke="#000" stroke-width="0.35" stroke-linejoin="round">(-5)%</text>
<line x1="539.0" y1="684.6" x2="583.0" y2="684.6" stroke="#808000" stroke-width="3.8" stroke-linecap="round"/>
<text x="588.5" y="691.4" font-family='"Liberation Serif", "Times New Roman", serif' font-size="22" font-weight="bold" fill="#000" text-anchor="start" textLength="45.5" lengthAdjust="spacingAndGlyphs"  stroke="#000" stroke-width="0.35" stroke-linejoin="round">(-6)%</text>
<text x="87.5" y="698.2" font-family='"Liberation Serif", "Times New Roman", serif' font-size="22.3" font-weight="bold" fill="#808000" text-anchor="start" textLength="62.5" lengthAdjust="spacingAndGlyphs"  stroke="#808000" stroke-width="0.3" stroke-linejoin="round">99.90%</text>
<text x="350.7" y="1133.3" font-family='"Liberation Serif", "Times New Roman", serif' font-size="23.7" font-weight="bold" fill="#000" text-anchor="start" textLength="28.6" lengthAdjust="spacingAndGlyphs"  stroke="#000" stroke-width="0.4" stroke-linejoin="round">pH</text>
<text x="344.0" y="1185.6" font-family='"Liberation Serif", "Times New Roman", serif' font-size="35.5" font-weight="bold" fill="#000" text-anchor="start" textLength="41.8" lengthAdjust="spacingAndGlyphs"  stroke="#000" stroke-width="0.4" stroke-linejoin="round">(b)</text>
<text transform="translate(44.9,879.6) rotate(-90)" text-anchor="middle" font-family='"Liberation Serif", "Times New Roman", serif' font-size="24.5" font-weight="bold" stroke="#000" stroke-width="0.4" textLength="311.7" lengthAdjust="spacingAndGlyphs">Macrospecies distribution (%)</text>
</g>
</svg>
</body></html>
